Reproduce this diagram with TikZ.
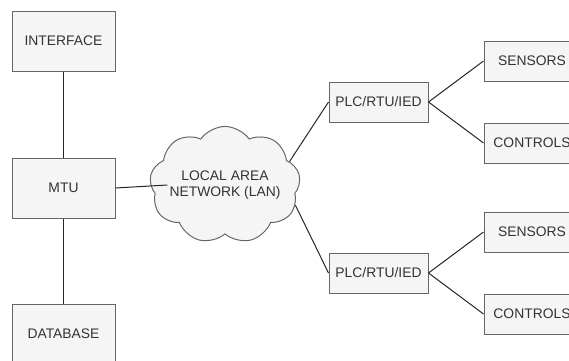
\documentclass[tikz,border=0pt]{standalone}
\usepackage{fontspec}
\setmainfont{Liberation Sans}
\usetikzlibrary{positioning,shapes.symbols}
\definecolor{boxfill}{HTML}{F5F5F5}
\definecolor{boxline}{HTML}{666666}
\definecolor{boxtext}{HTML}{333333}
\tikzset{
  box/.style={draw=boxline, fill=boxfill, text=boxtext, line width=0.75pt,
    font=\fontsize{10.4}{12}\selectfont, inner sep=0pt},
  unit/.style={box, minimum width=77.25pt, minimum height=45pt},
  field/.style={box, minimum width=74.25pt, minimum height=30pt},
  device/.style={box, minimum width=72pt, minimum height=30pt},
  link/.style={draw=black!85, line width=0.75pt},
}
\begin{document}
\begin{tikzpicture}[x=0.75pt, y=-0.75pt, node distance=0pt and 41.25pt]
  \useasboundingbox (0,0) rectangle (569,361);
  \clip (0,0) rectangle (569,361);

  \node [unit] (mtu) at (63.5,188) {MTU};
  \node [unit, above=64.5pt of mtu] (iface) {INTERFACE};
  \node [unit, below=63.75pt of mtu] (db) {DATABASE};

  \node [cloud, cloud puffs=9, cloud puff arc=110, aspect=1.45, box,
    inner xsep=-4pt, inner ysep=-7pt, align=center] (lan) at (225,185)
    {LOCAL AREA\\NETWORK (LAN)};

  \node [field] (plc1) at (378.5,102) {PLC/RTU/IED};
  \node [field] (plc2) at (378.5,273) {PLC/RTU/IED};
  \node [device, above right=of plc1] (sens1) {SENSORS};
  \node [device, below right=of plc1] (ctrl1) {CONTROLS};
  \node [device, above right=of plc2] (sens2) {SENSORS};
  \node [device, below right=of plc2] (ctrl2) {CONTROLS};

  \draw [link] (iface) -- (mtu);
  \draw [link] (mtu) -- (db);
  \draw [link] (mtu.east) -- ([xshift=12.75pt]lan.west);
  \draw [link] (lan.20) -- (plc1.west);
  \draw [link] (lan.-16) -- (plc2.west);
  \foreach \p/\s/\c in {plc1/sens1/ctrl1, plc2/sens2/ctrl2} {
    \draw [link] (\p.east) -- (\s.west);
    \draw [link] (\p.east) -- (\c.west);
  }
\end{tikzpicture}
\end{document}
